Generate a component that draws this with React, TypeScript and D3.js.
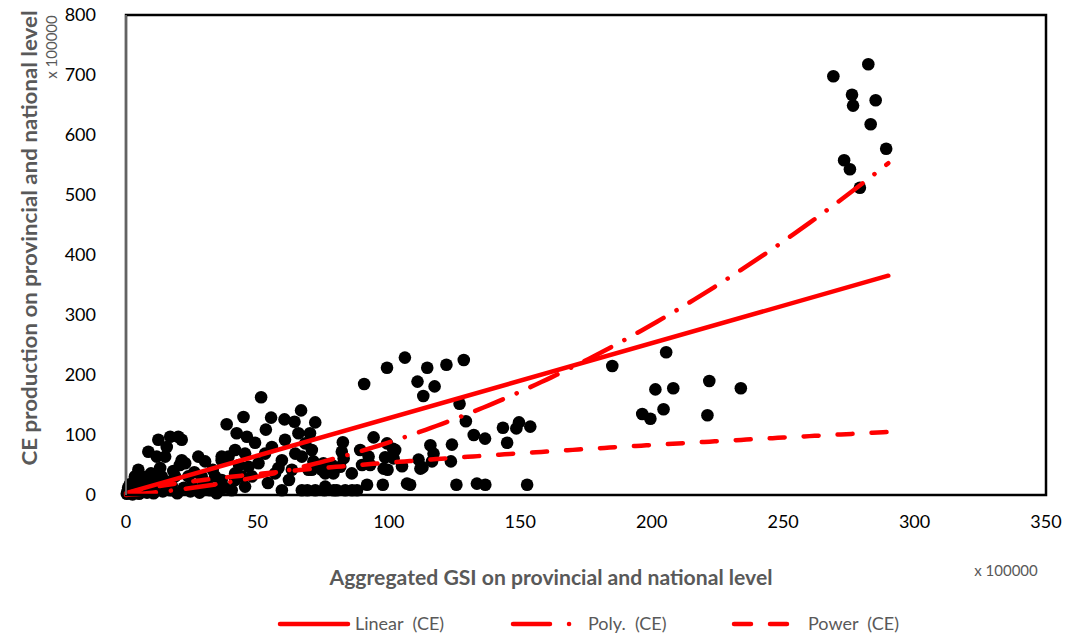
import * as d3 from 'd3';

// GSI (x 100000) vs CE production (x 100000)
const cePoints: [number, number][] = [
  // dense cluster near origin
  [0.3, 2], [0.6, 6], [0.8, 12], [1.2, 3], [1.5, 18], [2, 8], [2.2, 15], [2.5, 1], [3, 22], [3.4, 31],
  [3.6, 5], [4, 11], [4.7, 42], [5, 2], [5.5, 24], [6, 8], [6.5, 16], [7.2, 15], [7.5, 30], [8, 4],
  [8.5, 72], [9, 20], [9.5, 36], [10, 10], [10.5, 3], [11, 28], [11.7, 64], [12.3, 92], [12.3, 15], [13, 45],
  [13.6, 31], [14, 6], [14.9, 64], [15.5, 80], [16, 22], [16.8, 97], [17, 8], [17.4, 15], [18, 40], [18.7, 31],
  [19.5, 3], [19.9, 97], [20.5, 50], [21.2, 92], [21.2, 58], [22, 12], [22.5, 53], [23.7, 31], [24.5, 6], [25, 15],
  [26, 38], [27.5, 64], [28, 4], [28.8, 31], [29.5, 20], [30.1, 56], [31.3, 15], [32, 8], [33, 42], [33.9, 31],
  [34.5, 3], [35.2, 8], [36.4, 64], [36.4, 58], [36.4, 25], [37.5, 12], [38.3, 118], [39, 64], [40.2, 8], [41.5, 75],
  [41.5, 36], [41.5, 25], [42.1, 103], [43, 50], [44, 31], [44.7, 130], [45.3, 69], [45.3, 14], [46, 97], [46.6, 47],
  [47.9, 31], [49.1, 87], [50.4, 53], [51.4, 163], [52.9, 69], [53.2, 109], [54, 20], [55.2, 129], [55.5, 80], [56.7, 36],
  [58, 45], [59.3, 58], [59.3, 8], [60.3, 126], [60.5, 92], [62, 25], [63.1, 42], [64.1, 122], [64.4, 69], [65.6, 103],
  [66.6, 141], [66.9, 64], [66.9, 8], [68.2, 86], [69, 8], [69.4, 42], [70, 103], [70.7, 75], [70.7, 42], [71.3, 56],
  [72, 121], [72, 8], [74.5, 42], [75.1, 53], [75.5, 8], [75.8, 36], [75.8, 14], [78.3, 50], [78.9, 36], [79, 8],
  [80.2, 8], [81.5, 47], [82.1, 72], [82.5, 88], [82.8, 61], [83.4, 8], [85.9, 36], [86, 8], [87.9, 8], [89.1, 75],
  [89.8, 50], [90.6, 185], [91.7, 17], [92.3, 64], [92.9, 50], [94.2, 96], [97.7, 17], [98, 44], [98.6, 63], [99.3, 212],
  [99.3, 86], [99.5, 42], [101.6, 77], [101.8, 61], [102.4, 75], [105, 48], [106.1, 229], [106.9, 19], [108.1, 17], [110.9, 189],
  [111.3, 59], [112, 44], [112.8, 46], [113.1, 165], [114.6, 212], [115.8, 83], [116.4, 56], [117, 69], [117.4, 181], [121.9, 217],
  [123.6, 56], [124, 84], [125.7, 17], [126.9, 152], [128.5, 225], [129.3, 123], [132.3, 100], [133.5, 19], [136.6, 94], [136.7, 17],
  [143.4, 112], [145, 87], [148.5, 111], [149.5, 121], [152.6, 17], [153.8, 114],
  // middle group
  [185, 215], [196.4, 135], [199.5, 127], [201.4, 176], [204.5, 143], [205.5, 238], [208.2, 178], [221.2, 133], [221.9, 190], [233.9, 178],
  // upper right group
  [269.1, 698], [273.2, 558], [275.4, 543], [276.2, 667], [276.6, 649], [279.2, 512], [282.4, 718], [283.3, 618], [285.2, 658], [289.2, 577],
];

const xTicks = [0, 50, 100, 150, 200, 250, 300, 350];
const yTicks = [0, 100, 200, 300, 400, 500, 600, 700, 800];

// trend line coefficients
const linearFit = [1.25, 3]; // slope, intercept
const polyFit = [0.00542, 0.335, 0]; // a x^2 + b x + c
const powerFit = [3.02, 0.626]; // a x^b
const fitRange = [0, 290];

const legendItems = ['Linear  (CE)', 'Poly.  (CE)', 'Power  (CE)'];

const W = 1065;
const H = 639;
const plot = { left: 126, right: 1046, top: 15, bottom: 495 };
const red = '#ff0000';
const gray = '#595959';
const font = 'Lato, "Open Sans", sans-serif';

export default function App() {
  const x = d3.scaleLinear().domain([0, 350]).range([plot.left, plot.right]);
  const y = d3.scaleLinear().domain([0, 800]).range([plot.bottom, plot.top]);

  const line = d3
    .line<[number, number]>()
    .x((d) => x(d[0]))
    .y((d) => y(d[1]));

  const xs = d3.range(fitRange[0], fitRange[1] + 0.01, 2);
  const linearPath = line(fitRange.map((v) => [v, linearFit[0] * v + linearFit[1]]));
  const polyPath = line(xs.map((v) => [v, polyFit[0] * v * v + polyFit[1] * v + polyFit[2]]));
  const powerPath = line(
    [0.3, ...xs.slice(1)].map((v) => [v, powerFit[0] * Math.pow(v, powerFit[1])])
  );

  const legendY = 624;
  const legendText = { fontSize: 18, fill: gray, style: { whiteSpace: 'pre' as const } };

  return (
    <svg width={W} height={H} style={{ position: 'absolute', left: 0, top: 0 }} fontFamily={font}>
      <rect width={W} height={H} fill="#fff" />

      {/* points */}
      <g>
        {cePoints.map((d, i) => (
          <circle key={i} cx={x(d[0])} cy={y(d[1])} r={6.3} fill="#000" />
        ))}
      </g>

      {/* trend lines */}
      <path d={linearPath ?? ''} fill="none" stroke={red} strokeWidth={4.5} strokeLinecap="round" />
      <path
        d={polyPath ?? ''}
        fill="none"
        stroke={red}
        strokeWidth={4.5}
        strokeLinecap="round"
        strokeDasharray="30 15 0.1 15"
      />
      <path
        d={powerPath ?? ''}
        fill="none"
        stroke={red}
        strokeWidth={4.5}
        strokeLinecap="round"
        strokeDasharray="15 19"
      />

      {/* frame */}
      <rect
        x={plot.left}
        y={plot.top}
        width={plot.right - plot.left}
        height={plot.bottom - plot.top}
        fill="none"
        stroke="#000"
        strokeWidth={2.5}
      />
      <line x1={plot.left} x2={plot.left} y1={plot.top} y2={plot.bottom} stroke="#a6a6a6" strokeWidth={1.2} />

      {/* y ticks */}
      {yTicks.map((t) => (
        <text key={t} x={96} y={y(t)} dy="0.36em" textAnchor="end" fontSize={18} fill="#000">
          {t}
        </text>
      ))}
      {/* x ticks */}
      {xTicks.map((t) => (
        <text key={t} x={x(t)} y={528} textAnchor="middle" fontSize={18} fill="#000">
          {t}
        </text>
      ))}

      {/* axis titles */}
      <text
        transform={`translate(37,238) rotate(-90)`}
        textAnchor="middle"
        fontSize={20}
        fontWeight="bold"
        fill={gray}
        textLength={455}
        lengthAdjust="spacingAndGlyphs"
      >
        CE production on provincial and national level
      </text>
      <text transform={`translate(57,47) rotate(-90)`} textAnchor="middle" fontSize={15} fill={gray}>
        x 100000
      </text>
      <text
        x={551}
        y={585}
        textAnchor="middle"
        fontSize={20}
        fontWeight="bold"
        fill={gray}
        textLength={443}
        lengthAdjust="spacingAndGlyphs"
      >
        Aggregated GSI on provincial and national level
      </text>
      <text x={1006} y={576} textAnchor="middle" fontSize={15} fill={gray}>
        x 100000
      </text>

      {/* legend */}
      <line x1={280} x2={348} y1={legendY} y2={legendY} stroke={red} strokeWidth={4.5} strokeLinecap="round" />
      <text x={355} y={legendY} dy="0.36em" {...legendText}>
        {legendItems[0]}
      </text>
      <line
        x1={513}
        x2={572}
        y1={legendY}
        y2={legendY}
        stroke={red}
        strokeWidth={4.5}
        strokeLinecap="round"
        strokeDasharray="37 19 0.1 100"
      />
      <text x={588} y={legendY} dy="0.36em" {...legendText}>
        {legendItems[1]}
      </text>
      <line
        x1={734}
        x2={787}
        y1={legendY}
        y2={legendY}
        stroke={red}
        strokeWidth={4.5}
        strokeLinecap="round"
        strokeDasharray="17 19"
      />
      <text x={808} y={legendY} dy="0.36em" {...legendText}>
        {legendItems[2]}
      </text>
    </svg>
  );
}
